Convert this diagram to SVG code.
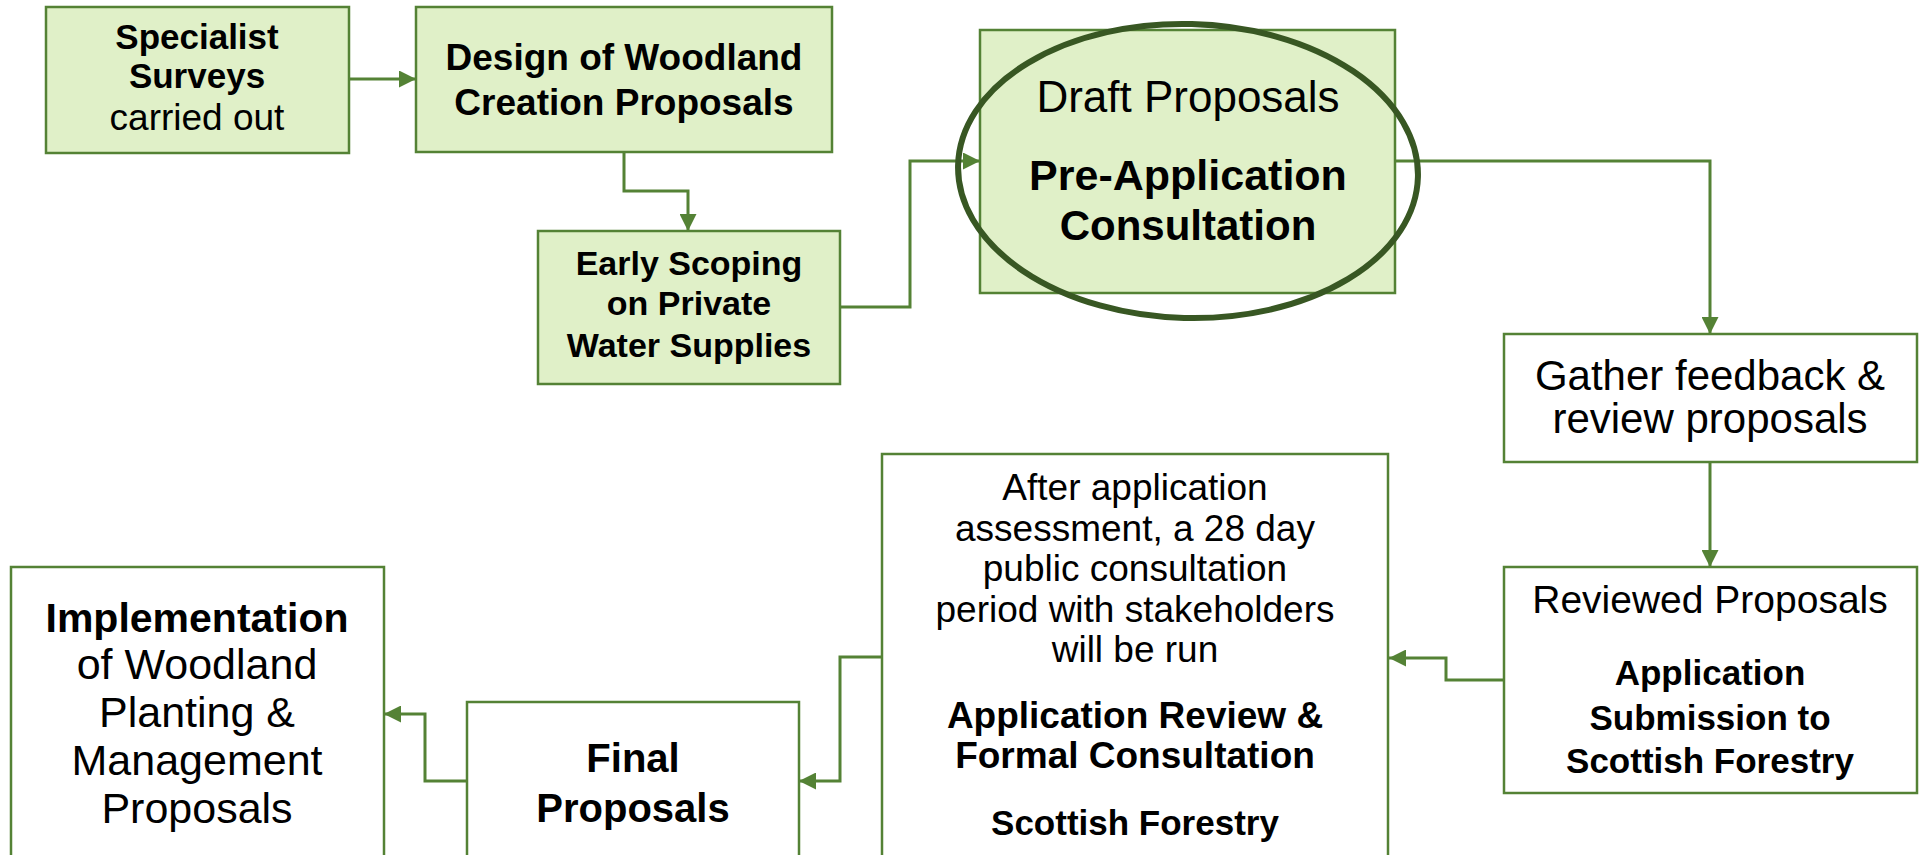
<svg xmlns="http://www.w3.org/2000/svg" width="1925" height="855" viewBox="0 0 1925 855">
<style>
.box{stroke:#548235;stroke-width:2.5}
.g{fill:#E0F0C8}
.w{fill:#FFFFFF}
.t{font-family:"Liberation Sans",Arial,sans-serif;fill:#000;text-anchor:middle}
.b{font-weight:bold}
.con{fill:none;stroke:#548235;stroke-width:3;marker-end:url(#ah)}
</style>
<defs>
<marker id="ah" markerUnits="userSpaceOnUse" markerWidth="17" markerHeight="17" refX="17" refY="8.5" orient="auto">
<path d="M0,0 L17,8.5 L0,17 Z" fill="#548235"/>
</marker>
</defs>
<rect width="1925" height="855" fill="#FFFFFF"/>
<g id="connectors">
<path class="con" d="M349,79 H416"/>
<path class="con" d="M624,152 V191 H688 V231"/>
<path class="con" d="M840,307 H910 V161 H980"/>
<path class="con" d="M1395,161 H1710 V334"/>
<path class="con" d="M1710,462 V567"/>
<path class="con" d="M1504,680 H1446 V658 H1389"/>
<path class="con" d="M882,657 H840 V781 H799"/>
<path class="con" d="M467,781 H425 V714 H384"/>
</g>
<g id="specialist">
<rect class="box g" x="46" y="7" width="303" height="146"/>
<text class="t b" x="197" y="49" font-size="35">Specialist</text>
<text class="t b" x="197" y="88" font-size="35">Surveys</text>
<text class="t" x="197" y="130" font-size="37">carried out</text>
</g>
<g id="design">
<rect class="box g" x="416" y="7" width="416" height="145"/>
<text class="t b" x="624" y="70" font-size="37">Design of Woodland</text>
<text class="t b" x="624" y="115" font-size="37">Creation Proposals</text>
</g>
<g id="early">
<rect class="box g" x="538" y="231" width="302" height="153"/>
<text class="t b" x="689" y="275" font-size="34">Early Scoping</text>
<text class="t b" x="689" y="315" font-size="34">on Private</text>
<text class="t b" x="689" y="357" font-size="34">Water Supplies</text>
</g>
<g id="preapp">
<rect class="box g" x="980" y="30" width="415" height="263"/>
<text class="t" x="1188" y="112" font-size="44">Draft Proposals</text>
<text class="t b" x="1188" y="190" font-size="43">Pre-Application</text>
<text class="t b" x="1188" y="240" font-size="42">Consultation</text>
<ellipse cx="1188" cy="171" rx="230" ry="147" fill="none" stroke="#385723" stroke-width="6" transform="rotate(1.5 1188 171)"/>
</g>
<g id="gather">
<rect class="box w" x="1504" y="334" width="413" height="128"/>
<text class="t" x="1710" y="390" font-size="42">Gather feedback &amp;</text>
<text class="t" x="1710" y="433" font-size="42">review proposals</text>
</g>
<g id="reviewed">
<rect class="box w" x="1504" y="567" width="413" height="226"/>
<text class="t" x="1710" y="613" font-size="39">Reviewed Proposals</text>
<text class="t b" x="1710" y="685" font-size="35">Application</text>
<text class="t b" x="1710" y="730" font-size="35">Submission to</text>
<text class="t b" x="1710" y="773" font-size="35">Scottish Forestry</text>
</g>
<g id="formal">
<rect class="box w" x="882" y="454" width="506" height="420"/>
<text class="t" x="1135" y="500" font-size="37">After application</text>
<text class="t" x="1135" y="541" font-size="37">assessment, a 28 day</text>
<text class="t" x="1135" y="581" font-size="37">public consultation</text>
<text class="t" x="1135" y="622" font-size="37">period with stakeholders</text>
<text class="t" x="1135" y="662" font-size="37">will be run</text>
<text class="t b" x="1135" y="728" font-size="37">Application Review &amp;</text>
<text class="t b" x="1135" y="768" font-size="37">Formal Consultation</text>
<text class="t b" x="1135" y="835" font-size="35">Scottish Forestry</text>
</g>
<g id="final">
<rect class="box w" x="467" y="702" width="332" height="172"/>
<text class="t b" x="633" y="772" font-size="40">Final</text>
<text class="t b" x="633" y="822" font-size="40">Proposals</text>
</g>
<g id="implementation">
<rect class="box w" x="11" y="567" width="373" height="307"/>
<text class="t b" x="197" y="632" font-size="41">Implementation</text>
<text class="t" x="197" y="679" font-size="43">of Woodland</text>
<text class="t" x="197" y="727" font-size="43">Planting &amp;</text>
<text class="t" x="197" y="775" font-size="43">Management</text>
<text class="t" x="197" y="823" font-size="43">Proposals</text>
</g>
</svg>
